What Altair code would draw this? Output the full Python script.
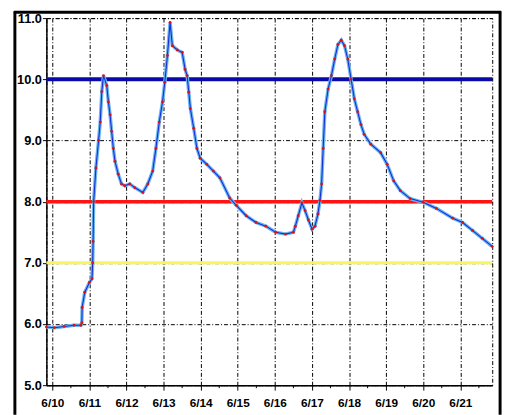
import altair as alt
import pandas as pd

# days since 6/10 00:00 and water level
day = [-0.159, 0.053, 0.318, 0.584, 0.769, 0.796, 0.804, 0.875, 1.0, 1.069, 1.088, 1.10,
       1.114, 1.175, 1.247, 1.292, 1.334, 1.379, 1.467, 1.512, 1.557, 1.599, 1.645, 1.690,
       1.777, 1.865, 1.955, 2.088, 2.220, 2.440, 2.573, 2.706, 2.793, 2.883, 2.971, 3.032,
       3.103, 3.175, 3.236, 3.369, 3.501, 3.581, 3.634, 3.679, 3.722, 3.812, 3.899, 3.987,
       4.164, 4.342, 4.517, 4.782, 4.960, 5.225, 5.491, 5.756, 6.021, 6.286, 6.499, 6.552,
       6.631, 6.729, 6.817, 6.905, 7.003, 7.082, 7.162, 7.215, 7.260, 7.302, 7.347, 7.435,
       7.525, 7.613, 7.700, 7.790, 7.878, 7.966, 8.056, 8.143, 8.231, 8.321, 8.408, 8.586,
       8.851, 9.027, 9.204, 9.382, 9.647, 10.0, 10.353, 10.796, 11.061, 11.326, 11.592, 11.857]
level = [5.95, 5.94, 5.96, 5.98, 5.98, 6.02, 6.27, 6.52, 6.68, 6.74, 7.0, 7.35,
         8.0, 8.55, 9.0, 9.3, 9.8, 10.06, 9.9, 9.63, 9.42, 9.15, 8.87, 8.66,
         8.45, 8.29, 8.26, 8.29, 8.23, 8.15, 8.29, 8.5, 8.87, 9.3, 9.63, 9.95,
         10.39, 10.93, 10.55, 10.48, 10.44, 10.16, 10.06, 9.79, 9.52, 9.2, 8.87, 8.71,
         8.61, 8.5, 8.39, 8.06, 7.94, 7.77, 7.66, 7.6, 7.5, 7.47, 7.5, 7.6,
         7.77, 7.98, 7.85, 7.7, 7.55, 7.6, 7.8, 8.02, 8.29, 8.87, 9.47, 9.84,
         10.06, 10.33, 10.57, 10.64, 10.55, 10.33, 10.0, 9.68, 9.47, 9.26, 9.1, 8.94,
         8.8, 8.61, 8.34, 8.18, 8.05, 7.99, 7.89, 7.73, 7.66, 7.53, 7.4, 7.27]

day_ticks = list(range(12))
day_labels = ["6/10", "6/11", "6/12", "6/13", "6/14", "6/15",
              "6/16", "6/17", "6/18", "6/19", "6/20", "6/21"]
minor_ticks = [d + 0.5 for d in range(12)]
y_ticks = [5, 6, 7, 8, 9, 10, 11]

limit_values = [10.0, 8.0, 7.0]
limit_colors = ["#0a0aa8", "#ff1414", "#f8f560"]
limit_widths = [4, 3.5, 3]

W, H = 453, 373

df = pd.DataFrame({"day": day, "level": level})
limits = pd.DataFrame({"level": limit_values, "color": limit_colors, "w": limit_widths})
minor = pd.DataFrame({"day": minor_ticks})
one = pd.DataFrame({"a": [0]})

label_expr = ""
for v, lab in zip(day_ticks, day_labels):
    label_expr += f"datum.value == {v} ? '{lab}' : "
label_expr += "''"

x_scale = alt.Scale(domain=[-0.16, 11.86], nice=False, zero=False)
y_scale = alt.Scale(domain=[5, 11], nice=False, zero=False)

x_axis = alt.Axis(values=day_ticks, labelExpr=label_expr, title=None, grid=True,
                  gridColor="black", gridDash=[4, 2, 1, 2], gridWidth=1, gridOpacity=1,
                  domainColor="black", domainWidth=1.5, tickColor="black", tickSize=5,
                  labelFont="Liberation Sans", labelFontWeight="bold", labelFontSize=12,
                  labelColor="black", labelPadding=8)
y_axis = alt.Axis(values=y_ticks, format=".1f", title=None, grid=True,
                  gridColor="black", gridDash=[4, 2, 1, 2], gridWidth=1, gridOpacity=1,
                  domainColor="black", domainWidth=1.5, tickColor="black", tickSize=4,
                  labelFont="Liberation Sans", labelFontWeight="bold", labelFontSize=13,
                  labelColor="black", labelPadding=1)

base = alt.Chart(df).encode(
    x=alt.X("day:Q", scale=x_scale, axis=x_axis),
    y=alt.Y("level:Q", scale=y_scale, axis=y_axis),
)

limit_rules = alt.Chart(limits).mark_rule().encode(
    y=alt.Y("level:Q", scale=y_scale, axis=y_axis),
    color=alt.Color("color:N", scale=None),
    strokeWidth=alt.StrokeWidth("w:Q", scale=None),
)

halo = base.mark_line(color="#6db4ee", strokeWidth=3.5)
line = base.mark_line(color="#1030d8", strokeWidth=1.1)
pts = base.mark_circle(color="#e01010", size=8, opacity=1)

minor_rules = alt.Chart(minor).mark_rule(color="black", strokeWidth=1).encode(
    x=alt.X("day:Q", scale=x_scale, axis=x_axis),
    y=alt.value(H), y2=alt.value(H + 3),
)

frame_left = alt.Chart(one).mark_rule(color="black", strokeWidth=3).encode(
    x=alt.value(-32), y=alt.value(-7), y2=alt.value(H + 30))
frame_right = alt.Chart(one).mark_rule(color="black", strokeWidth=3).encode(
    x=alt.value(461), y=alt.value(-7), y2=alt.value(H + 30))
frame_top = alt.Chart(one).mark_rule(color="black", strokeWidth=3).encode(
    x=alt.value(-33), x2=alt.value(462), y=alt.value(-6))

chart = alt.layer(
    limit_rules, halo, line, pts, minor_rules,
    frame_left, frame_right, frame_top
).properties(
    width=W, height=H,
    padding={"left": 39, "top": 7, "right": 14, "bottom": 27},
    autosize=alt.AutoSizeParams(type="none"),
    background="white",
).configure_view(stroke="black", strokeDash=[4, 2, 1, 2], strokeWidth=1)

chart.save("out.html", embed_options={"renderer": "svg", "actions": False})
